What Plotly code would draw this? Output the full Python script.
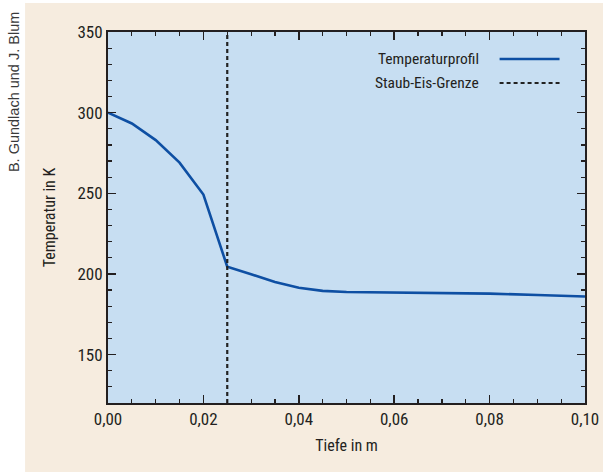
import plotly.graph_objects as go

depth = [0.0, 0.005, 0.01, 0.015, 0.02, 0.025, 0.03, 0.035, 0.04, 0.045, 0.05, 0.06, 0.07, 0.08, 0.09, 0.10]
temperature = [300, 293.3, 283, 269, 249.2, 204.5, 199.8, 195, 191.5, 189.5, 188.8, 188.5, 188.3, 187.8, 187.0, 186.0]
boundary_depth = 0.025
y_range = [120, 350]
x_range = [0, 0.1]
series_names = ["Temperaturprofil", "Staub-Eis-Grenze"]

FONT = "Liberation Sans Narrow, Roboto Condensed, DejaVu Sans Condensed, sans-serif"
TXT = "#231F20"
BLUE = "#0E4FA3"

fig = go.Figure()
fig.add_trace(go.Scatter(x=depth, y=temperature, mode="lines",
                         line=dict(color=BLUE, width=2.6), showlegend=False, hoverinfo="skip"))
fig.add_trace(go.Scatter(x=[boundary_depth, boundary_depth], y=y_range, mode="lines",
                         line=dict(color="#222222", width=2.2, dash="4px,3px"), showlegend=False,
                         hoverinfo="skip"))

W, H = 603, 472
L, R, T, B = 108, 17.5, 32, 69
pw, ph = W - L - R, H - T - B
def px(x): return (x - L) / pw
def py(y): return (H - B - y) / ph

shapes = [
    dict(type="rect", xref="paper", yref="paper", x0=px(-2), x1=px(25), y0=py(H + 2), y1=py(-2),
         fillcolor="white", line=dict(width=0), layer="below"),
    dict(type="rect", xref="paper", yref="paper", x0=px(25), x1=px(W + 2), y0=py(3), y1=py(-2),
         fillcolor="white", line=dict(width=0), layer="below"),
    dict(type="line", xref="paper", yref="paper", x0=px(500), x1=px(560), y0=py(59), y1=py(59),
         line=dict(color=BLUE, width=2.6)),
    dict(type="line", xref="paper", yref="paper", x0=px(500), x1=px(560), y0=py(83), y1=py(83),
         line=dict(color="#222222", width=2.2, dash="4px,3px")),
]
annotations = [
    dict(text=series_names[0], xref="paper", yref="paper", x=px(481), y=py(59), xanchor="right",
         yanchor="middle", showarrow=False, font=dict(family=FONT, size=15.5, color=TXT)),
    dict(text=series_names[1], xref="paper", yref="paper", x=px(481), y=py(83), xanchor="right",
         yanchor="middle", showarrow=False, font=dict(family=FONT, size=15.5, color=TXT)),
    dict(text="B. Gundlach und J. Blum", xref="paper", yref="paper", x=px(14), y=py(92), textangle=-90,
         xanchor="center", yanchor="middle", showarrow=False,
         font=dict(family="Liberation Sans, Arial, sans-serif", size=14.5, color="#3a3a3a")),
]

axis_common = dict(showline=True, linecolor="#231F20", linewidth=2, mirror="allticks",
                   ticks="inside", ticklen=8, tickwidth=1.5, tickcolor="#231F20",
                   showgrid=False, zeroline=False, automargin=False, fixedrange=True,
                   tickfont=dict(family=FONT, size=17, color=TXT))

fig.update_xaxes(range=x_range, dtick=0.02, tick0=0, tickformat=".2f",
                 minor=dict(dtick=0.005, ticks="inside", ticklen=4, tickwidth=1.2, tickcolor="#231F20"),
                 title=dict(text="Tiefe in m", font=dict(family=FONT, size=16, color=TXT), standoff=11),
                 **axis_common)
fig.update_yaxes(range=y_range, dtick=50, tick0=0,
                 minor=dict(dtick=10, ticks="inside", ticklen=4, tickwidth=1.2, tickcolor="#231F20"),
                 title=dict(text="Temperatur in K", font=dict(family=FONT, size=16, color=TXT), standoff=18),
                 **axis_common)

fig.update_layout(width=W, height=H, margin=dict(l=L, r=R, t=T, b=B, pad=0, autoexpand=False),
                  paper_bgcolor="#F6ECDF", plot_bgcolor="#C7DEF2",
                  separators=", ", shapes=shapes, annotations=annotations, showlegend=False,
                  hovermode=False, font=dict(family=FONT, color=TXT))
fig.write_html("out.html", config=dict(displayModeBar=False, staticPlot=True),
               post_script="document.body.style.margin='0';document.body.style.overflow='hidden';")
